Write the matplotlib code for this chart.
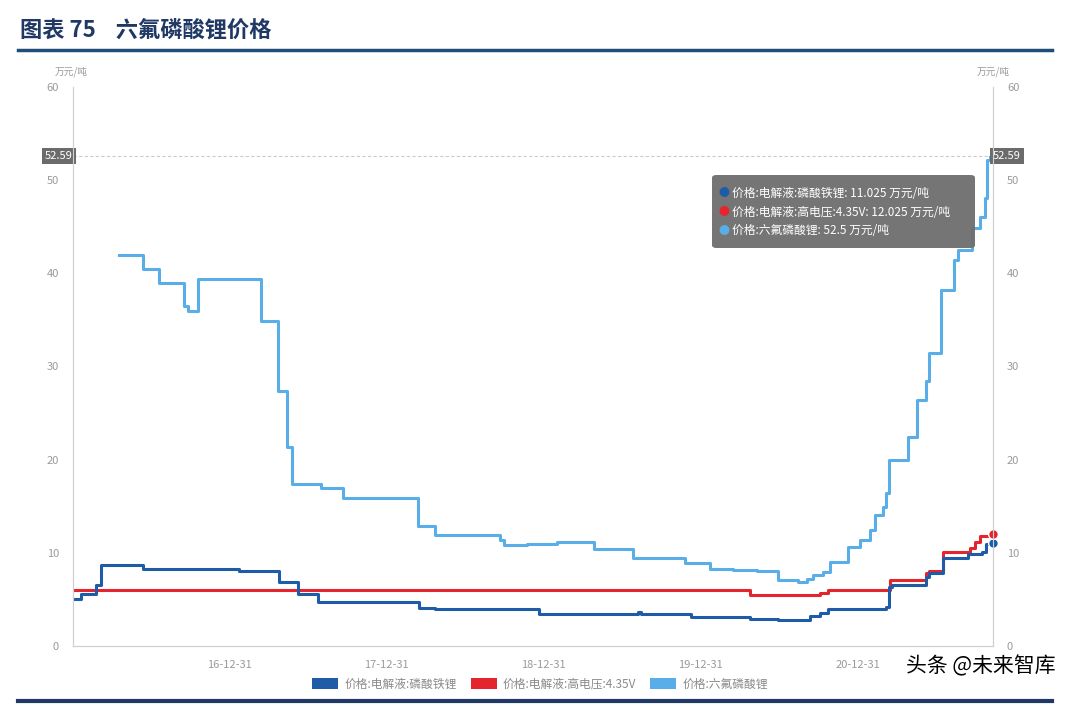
import numpy as np
import pandas as pd
import matplotlib
matplotlib.use('Agg')
import matplotlib.pyplot as plt
import matplotlib.dates as mdates
from matplotlib.patches import Patch, FancyBboxPatch
from matplotlib.lines import Line2D

plt.rcParams['font.family'] = ['Noto Sans CJK SC', 'DejaVu Sans']

# step change points (万元/吨)
lfp_dates = ["2016-01-01", "2016-01-19", "2016-02-23", "2016-03-06", "2016-06-12",
             "2017-01-22", "2017-04-24", "2017-06-07", "2017-07-24", "2018-03-15",
             "2018-04-22", "2018-12-21", "2019-08-08", "2019-08-14", "2019-12-08",
             "2020-04-23", "2020-06-28", "2020-09-10", "2020-10-03", "2020-10-22",
             "2021-03-05", "2021-03-12", "2021-03-20", "2021-06-06", "2021-06-13",
             "2021-07-17", "2021-09-13", "2021-10-16", "2021-10-25", "2021-11-10"]
lfp_vals = [5.0, 5.6, 6.6, 8.7, 8.3,
            8.1, 6.9, 5.6, 4.7, 4.1,
            4.0, 3.4, 3.6, 3.4, 3.1,
            2.9, 2.8, 3.2, 3.5, 4.0,
            4.2, 6.3, 6.5, 7.4, 7.8,
            9.4, 9.9, 10.1, 11.0, 11.025]

hv_dates = ["2016-01-01", "2020-04-23", "2020-10-03", "2020-10-22", "2021-03-16",
            "2021-06-06", "2021-06-13", "2021-07-17", "2021-09-18", "2021-09-29",
            "2021-10-11", "2021-11-10"]
hv_vals = [6.0, 5.5, 5.7, 6.0, 7.1,
           7.8, 8.1, 10.1, 10.5, 11.2,
           11.8, 12.025]

lipf6_dates = ["2016-04-17", "2016-06-12", "2016-07-19", "2016-09-15", "2016-09-24",
               "2016-10-18", "2017-03-14", "2017-04-22", "2017-05-13", "2017-05-24",
               "2017-07-31", "2017-09-20", "2018-03-13", "2018-04-22", "2018-09-20",
               "2018-09-29", "2018-11-21", "2019-01-30", "2019-04-28", "2019-07-26",
               "2019-11-24", "2020-01-21", "2020-03-15", "2020-05-10", "2020-06-28",
               "2020-08-13", "2020-09-03", "2020-09-17", "2020-10-10", "2020-10-27",
               "2020-12-08", "2021-01-05", "2021-01-28", "2021-02-09", "2021-02-28",
               "2021-03-07", "2021-03-12", "2021-04-27", "2021-05-17", "2021-06-06",
               "2021-06-13", "2021-07-13", "2021-08-12", "2021-08-21", "2021-09-22",
               "2021-10-11", "2021-10-22", "2021-10-27", "2021-11-03"]
lipf6_vals = [42.0, 40.5, 39.0, 36.5, 36.0,
              39.4, 34.9, 27.4, 21.4, 17.4,
              17.0, 15.9, 12.9, 11.9, 11.4,
              10.8, 11.0, 11.2, 10.4, 9.4,
              8.9, 8.3, 8.2, 8.0, 7.1,
              6.9, 7.2, 7.6, 7.9, 9.0,
              10.6, 11.4, 12.4, 14.1, 14.9,
              16.4, 20.0, 22.4, 26.4, 28.4,
              31.4, 38.2, 41.4, 42.5, 44.9,
              46.0, 48.1, 52.2, 52.5]

names = ["价格:电解液:磷酸铁锂", "价格:电解液:高电压:4.35V", "价格:六氟磷酸锂"]
colors = ["#1F5CA8", "#E5252D", "#5AAEE8"]
tick_dates = ["2016-12-31", "2017-12-31", "2018-12-31", "2019-12-31", "2020-12-31"]
yticks = [0, 10, 20, 30, 40, 50, 60]
crosshair = 52.59

fig = plt.figure(figsize=(10.8, 7.05), dpi=100)
ax = fig.add_axes([73/1080, 59/705, 920/1080, 559/705])

series = [(lfp_dates, lfp_vals), (hv_dates, hv_vals), (lipf6_dates, lipf6_vals)]
for (d, v), c in zip(series[::-1], colors[::-1]):
    ax.plot(pd.to_datetime(d), v, drawstyle='steps-post', color=c, linewidth=2.2)

# end markers
for (d, v), c in zip(series[:2], colors[:2]):
    ax.plot(pd.to_datetime(d[-1]), v[-1], 'o', color=c, markersize=7,
            markeredgecolor='white', markeredgewidth=1, zorder=5, clip_on=False)

ax.set_xlim(pd.Timestamp("2016-01-01"), pd.Timestamp("2021-11-10"))
ax.set_ylim(0, 60)
ax.set_xticks(pd.to_datetime(tick_dates))
ax.xaxis.set_major_formatter(mdates.DateFormatter('%y-%m-%d'))
ax.set_yticks(yticks)

ax2 = ax.twinx()
ax2.set_ylim(0, 60)
ax2.set_yticks(yticks)

for a in (ax, ax2):
    a.spines['top'].set_visible(False)
    for s in ['left', 'right', 'bottom']:
        a.spines[s].set_color('#d0d0d0')
    a.tick_params(length=0, colors='#9a9a9a', labelsize=8, pad=10)

# crosshair line with value boxes
ax.axhline(crosshair, color='#cccccc', linewidth=0.8, linestyle=(0, (3, 2)))
box = dict(boxstyle='square,pad=0.25', fc='#6b6b6b', ec='none')
ax.text(0.0, crosshair, f"{crosshair:.2f}", transform=ax.get_yaxis_transform(),
        ha='right', va='center', color='white', fontsize=8, bbox=box)
ax.text(1.0, crosshair, f"{crosshair:.2f}", transform=ax.get_yaxis_transform(),
        ha='left', va='center', color='white', fontsize=8, bbox=box)

fig.text(55/1080, 1 - 72/705, "万元/吨", fontsize=7, color='#9a9a9a', va='center')
fig.text(977/1080, 1 - 72/705, "万元/吨", fontsize=7, color='#9a9a9a', va='center')

# tooltip
fig.patches.append(FancyBboxPatch((712/1080, 1 - 248/705), 263/1080, 73/705,
                                  boxstyle='round,pad=0,rounding_size=0.004',
                                  transform=fig.transFigure, fc='#6e6e6e',
                                  ec='none', alpha=0.95, zorder=10))
tip = [f"{names[0]}: {lfp_vals[-1]} 万元/吨",
       f"{names[1]}: {hv_vals[-1]} 万元/吨",
       f"{names[2]}: {lipf6_vals[-1]} 万元/吨"]
for i, (t, c) in enumerate(zip(tip, colors)):
    yy = 1 - (193 + 19 * i) / 705
    fig.text(724/1080, yy, "●", color=c, fontsize=8, ha='center', va='center',
             zorder=11)
    fig.text(732/1080, yy, t, color='white', fontsize=8.5, va='center', zorder=11)

# legend
handles = [Patch(facecolor=c, edgecolor='none') for c in colors]
leg = fig.legend(handles, names, loc='center', bbox_to_anchor=(0.5, 1 - 684/705),
                 ncol=3, frameon=False, fontsize=8.5, handlelength=2.2,
                 handleheight=1.0, columnspacing=1.2, handletextpad=0.5)
for t in leg.get_texts():
    t.set_color('#8a8a8a')

# title and rules
fig.text(20/1080, 1 - 30/705, "图表 75    六氟磷酸锂价格", fontsize=16,
         fontweight='bold', color='#1F3864', va='center')
fig.add_artist(Line2D([18/1080, 1052/1080], [1 - 50/705, 1 - 50/705],
                      color='#1F4E79', linewidth=2.5))
fig.add_artist(Line2D([18/1080, 1052/1080], [1 - 701/705, 1 - 701/705],
                      color='#1F3864', linewidth=3))

# watermark
fig.text(1056/1080, 1 - 666/705, "头条 @未来智库", fontsize=15, color='black',
         ha='right', va='center', zorder=12)

fig.savefig("out.png", dpi=100)
